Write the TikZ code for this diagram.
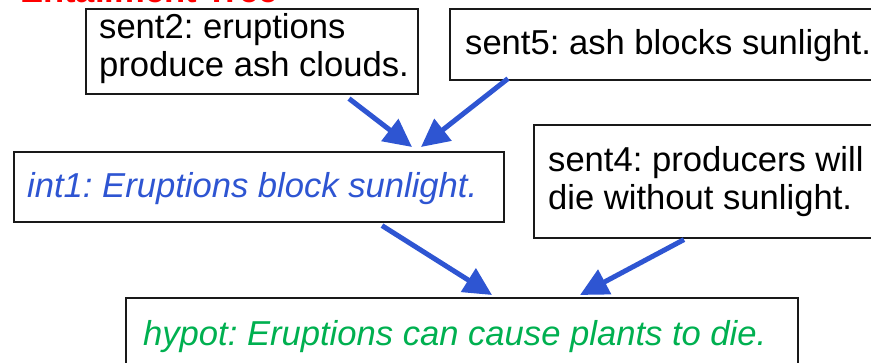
\documentclass[tikz,border=0pt]{standalone}
\usepackage{fontspec}
\setmainfont{Liberation Sans}
\usetikzlibrary{arrows.meta,calc}
\definecolor{arrblue}{HTML}{2E55D2}
\definecolor{txtblue}{HTML}{2E55D2}
\definecolor{txtgreen}{HTML}{00B050}
\definecolor{titlered}{HTML}{FF0000}
\frenchspacing
\begin{document}
\begin{tikzpicture}[x=1pt,y=-1pt,
  box/.style={draw=black!90,line width=1.6pt,rectangle,inner sep=0pt,anchor=north west},
  txt/.style={anchor=base west,inner sep=0pt,font=\fontsize{34.6}{38}\selectfont},
  arr/.style={draw=arrblue,line width=5pt,-{Triangle[length=28pt,width=27pt]}}]
\useasboundingbox (0,0) rectangle (871,363);
% title (mostly cut off at top)
\node[txt,text=titlered,font=\fontsize{34.6}{38}\selectfont\bfseries] (title) at (20,3) {Entailment Tree};
% boxes
\node[box,minimum width=332pt,minimum height=85pt] (s2) at (85,8) {};
\node[box,minimum width=450pt,minimum height=71pt] (s5) at (449,8) {};
\node[box,minimum width=490pt,minimum height=70pt] (i1) at (13,151) {};
\node[box,minimum width=400pt,minimum height=113pt] (s4) at (533,124) {};
\node[box,minimum width=672pt,minimum height=100pt] (hy) at (125,297) {};
% texts
\node[txt] (s2a) at (99,39) {sent2: eruptions};
\node[txt] (s2b) at (99,77) {produce ash clouds.};
\node[txt] (s5a) at (465,55) {sent5: ash blocks sunlight.};
\node[txt,text=txtblue,font=\fontsize{34.6}{38}\selectfont\itshape] (i1a) at (27,198) {int1: Eruptions block sunlight.};
\node[txt] (s4a) at (548,172) {sent4: producers will};
\node[txt] (s4b) at (548,210) {die without sunlight.};
\node[txt,text=txtgreen,font=\fontsize{34.6}{38}\selectfont\itshape] (hya) at (143,346) {hypot: Eruptions can cause plants to die.};
% arrows
\draw[arr] ($(s2.south west)+(264,4)$) -- ($(i1.north west)+(399,-4)$);
\draw[arr] ($(s5.south west)+(59,-2)$) -- ($(i1.north west)+(408,-4)$);
\draw[arr] ($(i1.south west)+(369,3)$) -- ($(hy.north west)+(367,-2)$);
\draw[arr] ($(s4.south west)+(151,1)$) -- ($(hy.north west)+(455,-2)$);
\end{tikzpicture}
\end{document}
